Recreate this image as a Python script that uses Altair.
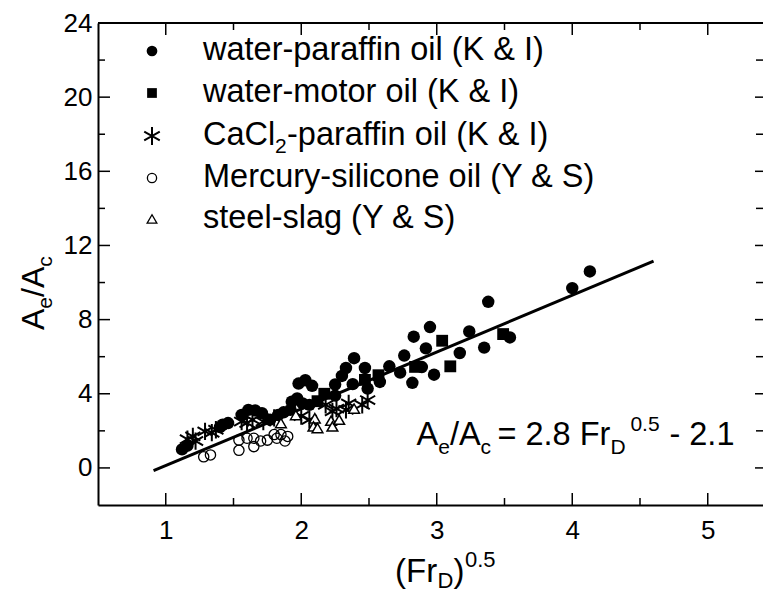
import altair as alt
import pandas as pd

# ---------------- data ----------------
paraffin_x = [1.12, 1.16, 1.40, 1.42, 1.46, 1.56, 1.61, 1.66, 1.71, 1.77, 1.83, 1.87, 1.92,
              1.93, 1.97, 2.01, 1.98, 2.03, 2.08, 2.06, 2.25, 2.25, 2.30, 2.33, 2.38, 2.39,
              2.47, 2.49, 2.58, 2.65, 2.73, 2.76, 2.82, 2.83, 2.89, 2.92, 2.95, 2.98, 3.17,
              3.24, 3.35, 3.38, 3.54, 4.00, 4.13]
paraffin_y = [1.00, 1.20, 2.20, 2.33, 2.42, 2.86, 3.13, 3.10, 2.95, 2.60, 2.86, 3.00, 3.13,
              3.57, 3.75, 3.48, 4.55, 4.73, 4.43, 3.40, 3.90, 4.50, 4.96, 5.39, 4.52, 5.92,
              5.39, 4.28, 4.64, 5.48, 5.14, 6.06, 4.59, 7.08, 5.44, 6.45, 7.60, 5.03, 6.20,
              7.36, 6.49, 8.96, 7.04, 9.70, 10.60]

motor_x = [2.12, 2.17, 2.47, 2.57, 2.84, 3.04, 3.10, 3.49]
motor_y = [3.60, 4.00, 4.75, 5.00, 5.45, 6.86, 5.48, 7.22]

cacl_x = [1.16, 1.20, 1.22, 1.29, 1.34, 1.37, 1.56, 1.60, 1.64, 1.72, 1.80, 2.00, 2.06,
          2.18, 2.23, 2.26, 2.33, 2.35, 2.45, 2.49]
cacl_y = [1.55, 1.70, 1.45, 1.97, 1.90, 2.06, 2.50, 2.42, 2.60, 2.50, 2.70, 2.80, 2.60,
          3.40, 3.05, 3.20, 3.13, 3.48, 3.40, 3.66]

mercury_x = [1.28, 1.33, 1.54, 1.54, 1.60, 1.65, 1.65, 1.70, 1.75, 1.80, 1.82, 1.85, 1.88, 1.90]
mercury_y = [0.60, 0.70, 0.95, 1.50, 1.60, 1.15, 1.60, 1.45, 1.50, 1.80, 1.60, 1.80, 1.45, 1.70]

slag_x = [1.85, 1.96, 2.10, 2.09, 2.12, 2.22, 2.23, 2.28, 2.39]
slag_y = [2.42, 2.85, 2.68, 2.24, 2.15, 2.55, 2.24, 2.60, 3.20]

fit_x = [0.91, 4.60]
fit_y = [-0.15, 11.15]

x_ticks_major = [1, 2, 3, 4, 5]
x_ticks_minor = [1.5, 2.5, 3.5, 4.5]
y_ticks_major = [0, 4, 8, 12, 16, 20, 24]
y_ticks_minor = [2, 6, 10, 14, 18, 22]

legend_labels = ["water-paraffin oil (K & I)", "water-motor oil (K & I)",
                 "CaCl", "Mercury-silicone oil (Y & S)", "steel-slag (Y & S)"]

# ---------------- styling ----------------
FONT = "Liberation Sans"
W, H = 665, 482
PAD_TOP = 15
ASTER = "M0,-1L0,1M-0.87,-0.5L0.87,0.5M-0.87,0.5L0.87,-0.5"

xs = alt.Scale(domain=[0.5, 0.5 + W / 135.5], nice=False, zero=False)
ys = alt.Scale(domain=[-2, 24], nice=False, zero=False)

xaxis = alt.Axis(values=x_ticks_major, title=None, grid=False, ticks=False, tickSize=0,
                 labelFont=FONT, labelFontSize=26, labelColor="black", labelPadding=12,
                 domainColor="black", domainWidth=2, labelFlush=False, format="d")
yaxis = alt.Axis(values=y_ticks_major, title=None, grid=False, ticks=False, tickSize=0,
                 labelFont=FONT, labelFontSize=26, labelColor="black", labelPadding=6,
                 domainColor="black", domainWidth=2, labelFlush=False, format="d")

X = alt.X("x:Q", scale=xs, axis=xaxis)
Y = alt.Y("y:Q", scale=ys, axis=yaxis)


def df(xv, yv):
    return pd.DataFrame({"x": xv, "y": yv})


layers = []

# fit line
layers.append(alt.Chart(df(fit_x, fit_y)).mark_line(color="black", strokeWidth=3).encode(x=X, y=Y))

# data
layers.append(alt.Chart(df(paraffin_x, paraffin_y)).mark_point(
    shape="circle", filled=True, color="black", size=155, opacity=1).encode(x=X, y=Y))
layers.append(alt.Chart(df(motor_x, motor_y)).mark_point(
    shape="square", filled=True, color="black", size=140, opacity=1).encode(x=X, y=Y))
layers.append(alt.Chart(df(cacl_x, cacl_y)).mark_point(
    shape=ASTER, filled=False, color="black", size=300, strokeWidth=2, opacity=1).encode(x=X, y=Y))
layers.append(alt.Chart(df(mercury_x, mercury_y)).mark_point(
    shape="circle", filled=False, color="black", size=105, strokeWidth=1.3, opacity=1).encode(x=X, y=Y))
layers.append(alt.Chart(df(slag_x, slag_y)).mark_point(
    shape="triangle-up", filled=False, color="black", fill="white", fillOpacity=1,
    size=115, strokeWidth=1.5, opacity=1).encode(x=X, y=Y))

# frame: top border
layers.append(alt.Chart(pd.DataFrame({"y": [24]})).mark_rule(color="black", strokeWidth=2).encode(
    y=Y, x=alt.value(0), x2=alt.value(W)))


# inward ticks
def xticks(vals, length):
    d = pd.DataFrame({"x": vals})
    bot = alt.Chart(d).mark_rule(color="black", strokeWidth=1.5).encode(
        x=X, y=alt.value(H), y2=alt.value(H - length))
    top = alt.Chart(d).mark_rule(color="black", strokeWidth=1.5).encode(
        x=X, y=alt.value(0), y2=alt.value(length))
    return [bot, top]


def yticks(vals, length):
    d = pd.DataFrame({"y": vals})
    left = alt.Chart(d).mark_rule(color="black", strokeWidth=1.5).encode(
        y=Y, x=alt.value(0), x2=alt.value(length))
    right = alt.Chart(d).mark_rule(color="black", strokeWidth=1.5).encode(
        y=Y, x=alt.value(W - min(length, 8)), x2=alt.value(W))
    return [left, right]


layers += xticks(x_ticks_major, 12) + xticks(x_ticks_minor, 7)
layers += yticks([v for v in y_ticks_major if v < 24], 12) + yticks(y_ticks_minor, 7)


def txt(text, x, y, size, dx=0, dy=0, angle=0, data=None):
    d = data if data is not None else pd.DataFrame({"t": [text]})
    kw = dict(font=FONT, fontSize=size, align="left", baseline="alphabetic",
              dx=dx, dy=dy, color="black")
    if angle:
        kw["angle"] = angle
    return alt.Chart(d).mark_text(**kw).encode(text="t:N", x=x, y=y)


# legend (pixel positions relative to the plot area)
LX_SYM, LX_TXT = 54, 105
baselines = [37, 79, 122, 164, 205]
sym_specs = [
    dict(shape="circle", filled=True, size=115),
    dict(shape="square", filled=True, size=95),
    dict(shape=ASTER, filled=False, size=320, strokeWidth=2),
    dict(shape="circle", filled=False, size=85, strokeWidth=1.3),
    dict(shape="triangle-up", filled=False, size=95, strokeWidth=1.3),
]
for i, (lab, spec) in enumerate(zip(legend_labels, sym_specs)):
    layers.append(alt.Chart(pd.DataFrame({"t": [lab]})).mark_point(
        color="black", opacity=1, **spec).encode(
        x=alt.value(LX_SYM), y=alt.value(baselines[i] - 9)))
    layers.append(txt(lab, alt.value(LX_TXT), alt.value(baselines[i]), 32.5))
# CaCl2 subscript pieces
layers.append(txt("2", alt.value(LX_TXT), alt.value(baselines[2]), 21, dx=72, dy=8))
layers.append(txt("-paraffin oil (K & I)", alt.value(LX_TXT), alt.value(baselines[2]), 32.5, dx=84))

# equation anchored in data space
eq = pd.DataFrame({"x": [2.85], "y": [1.25], "t": [""]})


def eqp(text, size, dx, dy=0):
    d = eq.assign(t=[text])
    return txt(text, X, Y, size, dx=dx, dy=dy, data=d)


layers += [
    eqp("A", 32.5, 0),
    eqp("e", 21, 21.7, 9),
    eqp("/A", 32.5, 33.5),
    eqp("c", 21, 64, 9),
    eqp("= 2.8 Fr", 32.5, 81),
    eqp("D", 21, 194, 9),
    eqp("0.5", 21, 214, -14),
    eqp("- 2.1", 32.5, 253),
]

# y title (rotated)
YT_X, YT_Y = alt.value(-54), alt.value(307)
layers += [
    txt("A", YT_X, YT_Y, 32, angle=270),
    txt("e", YT_X, YT_Y, 21, dx=21.3, dy=8, angle=270),
    txt("/A", YT_X, YT_Y, 32, dx=33, angle=270),
    txt("c", YT_X, YT_Y, 21, dx=63.2, dy=8, angle=270),
]

# x title
XT_X, XT_Y = alt.value(297), alt.value(559)
layers += [
    txt("(Fr", XT_X, XT_Y, 33),
    txt("D", XT_X, XT_Y, 22, dx=42.5, dy=6),
    txt(")", XT_X, XT_Y, 33, dx=58.5),
    txt("0.5", XT_X, XT_Y, 22, dx=70, dy=-15),
]

chart = alt.layer(*layers).properties(
    width=W, height=H,
    autosize=alt.AutoSizeParams(type="none"),
    padding={"left": 90, "top": PAD_TOP, "right": 0, "bottom": 88},
    background="white",
).configure_view(stroke=None)

chart.save("out.html", embed_options={"renderer": "svg", "actions": False})
